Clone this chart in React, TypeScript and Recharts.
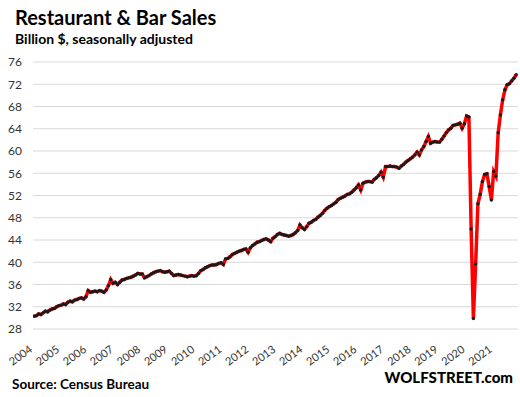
import React from "react";
import { CartesianGrid, Line, LineChart, XAxis, YAxis } from "recharts";

// monthly sales, billion $, seasonally adjusted
const y2004 = [30.3, 30.4, 30.7, 30.6, 30.9, 31.2, 31.1, 31.4, 31.6, 31.7, 32.0, 32.2];
const y2005 = [32.3, 32.5, 32.4, 32.8, 33.0, 32.9, 33.2, 33.3, 33.5, 33.6, 33.4, 33.8];
const y2006 = [34.9, 34.6, 34.7, 34.8, 34.7, 34.9, 34.8, 34.6, 35.0, 35.8, 36.9, 36.2];
const y2007 = [36.4, 36.0, 36.4, 36.8, 36.9, 37.1, 37.2, 37.3, 37.5, 37.7, 38.0, 37.9];
const y2008 = [37.9, 37.2, 37.4, 37.6, 37.9, 38.1, 38.3, 38.4, 38.5, 38.3, 38.2, 38.3];
const y2009 = [38.4, 38.0, 37.6, 37.7, 37.8, 37.7, 37.6, 37.5, 37.4, 37.5, 37.6, 37.5];
const y2010 = [37.6, 38.0, 38.5, 38.7, 39.0, 39.2, 39.4, 39.5, 39.5, 39.6, 39.8, 39.9];
const y2011 = [39.6, 40.6, 40.7, 41.0, 41.4, 41.6, 41.8, 42.0, 42.1, 42.3, 42.4, 41.8];
const y2012 = [42.6, 43.0, 43.3, 43.6, 43.7, 43.9, 44.1, 44.2, 44.0, 43.7, 44.3, 44.6];
const y2013 = [45.0, 45.2, 45.0, 44.9, 44.8, 44.7, 44.8, 45.0, 45.3, 45.7, 46.7, 46.2];
const y2014 = [45.9, 46.4, 47.0, 47.2, 47.5, 47.7, 48.1, 48.4, 48.8, 49.3, 49.7, 50.0];
const y2015 = [50.2, 50.5, 50.8, 51.3, 51.5, 51.7, 51.9, 52.2, 52.3, 52.6, 53.0, 53.4];
const y2016 = [53.9, 53.0, 54.2, 54.4, 54.5, 54.5, 54.4, 54.9, 55.2, 55.6, 56.2, 55.3];
const y2017 = [57.2, 57.2, 57.3, 57.2, 57.2, 57.1, 56.9, 57.3, 57.6, 58.0, 58.3, 58.6];
const y2018 = [58.9, 59.3, 59.8, 59.3, 60.2, 60.8, 61.7, 62.6, 61.4, 61.6, 61.7, 61.6];
const y2019 = [61.6, 62.1, 62.7, 63.3, 63.8, 64.1, 64.6, 64.7, 64.8, 65.0, 64.1, 64.9];
const y2020 = [66.3, 66.1, 46.0, 29.9, 39.7, 50.5, 52.2, 54.5, 55.8, 55.9, 53.6, 51.2];
const y2021 = [56.3, 55.5, 63.3, 66.5, 69.2, 71.0, 71.9, 72.1, 72.6, 73.1, 73.7];

const years = [
  "2004", "2005", "2006", "2007", "2008", "2009", "2010", "2011", "2012",
  "2013", "2014", "2015", "2016", "2017", "2018", "2019", "2020", "2021",
];
const yTicks = [28, 32, 36, 40, 44, 48, 52, 56, 60, 64, 68, 72, 76];

const sales = [
  ...y2004, ...y2005, ...y2006, ...y2007, ...y2008, ...y2009, ...y2010, ...y2011, ...y2012,
  ...y2013, ...y2014, ...y2015, ...y2016, ...y2017, ...y2018, ...y2019, ...y2020, ...y2021,
];
const data = sales.map((v, i) => ({ month: i, sales: v }));
const yearTicks = years.map((_, i) => i * 12);

const font = "Lato, 'Open Sans', sans-serif";

function YearTick({ x, y, payload }: any) {
  const label = years[Math.round(payload.value / 12)];
  const tx = x - 1;
  const ty = y + 22;
  return (
    <text
      x={tx}
      y={ty}
      textAnchor="end"
      fontSize={11}
      fill="#333"
      fontFamily={font}
      transform={`rotate(-36, ${tx}, ${ty})`}
    >
      {label}
    </text>
  );
}

export default function App() {
  return (
    <div style={{ position: "absolute", left: 0, top: 0, width: 520, height: 397, background: "#fff" }}>
      <LineChart width={520} height={397} data={data} margin={{ top: 62, right: 2, bottom: 38, left: 0 }}>
        <CartesianGrid vertical={false} stroke="#d9d9d9" />
        <XAxis
          dataKey="month"
          type="number"
          domain={[-0.5, 214.8]}
          allowDataOverflow
          ticks={yearTicks}
          interval={0}
          height={30}
          axisLine={false}
          tickLine={false}
          tickSize={0}
          tickMargin={0}
          tick={<YearTick />}
        />
        <YAxis
          domain={[28, 76]}
          ticks={yTicks}
          interval={0}
          width={33}
          axisLine={false}
          tickLine={false}
          tickSize={0}
          tickMargin={11}
          tick={{ fontSize: 12, fill: "#333", fontFamily: font }}
        />
        <Line
          type="linear"
          dataKey="sales"
          stroke="#ff0000"
          strokeWidth={3.5}
          dot={{ r: 1.7, fill: "#1a1a1a", stroke: "none" }}
          isAnimationActive={false}
        />
      </LineChart>
      <svg width={520} height={397} style={{ position: "absolute", left: 0, top: 0, pointerEvents: "none" }}>
        <text x={15} y={24.5} fontSize={20} fontWeight={700} fontFamily={font} fill="#000">
          Restaurant &amp; Bar Sales
        </text>
        <text x={15} y={43.5} fontSize={14} fontWeight={700} fontFamily={font} fill="#000">
          Billion $, seasonally adjusted
        </text>
        <text x={12} y={389} fontSize={13.5} fontWeight={700} fontFamily={font} fill="#000">
          Source: Census Bureau
        </text>
        <text x={513} y={382.5} textAnchor="end" fontSize={15} fontWeight={900} fontFamily={font} fill="#000">
          WOLFSTREET.com
        </text>
      </svg>
    </div>
  );
}
